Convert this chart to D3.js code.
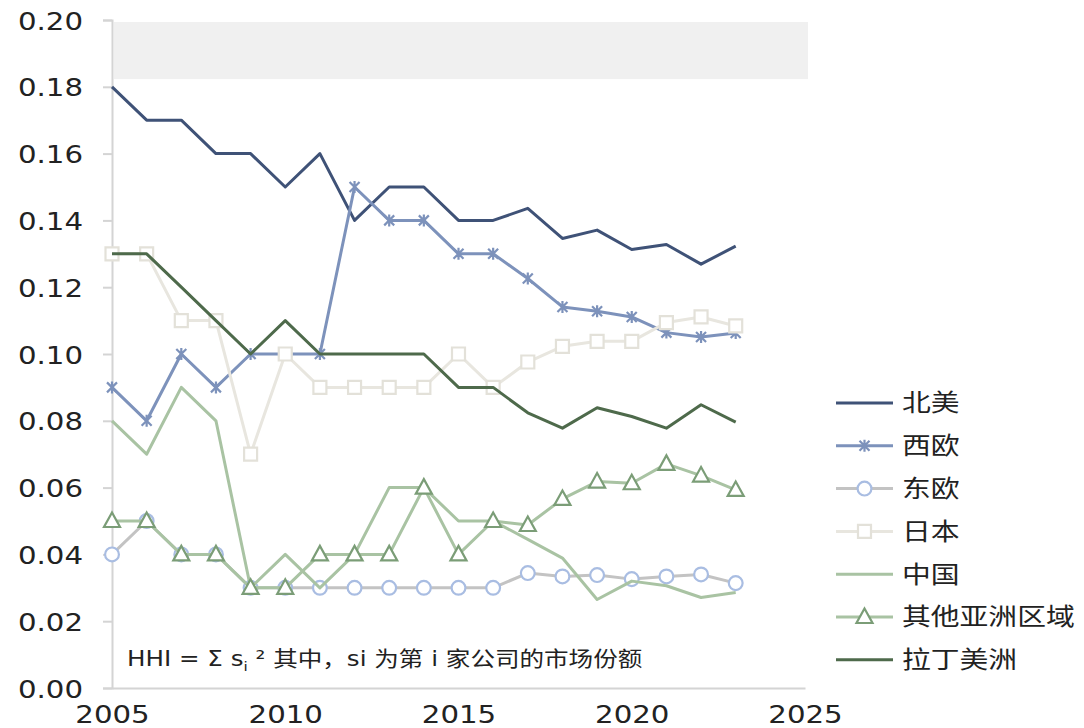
<!DOCTYPE html>
<html>
<head>
<meta charset="utf-8">
<script src="https://cdn.jsdelivr.net/npm/d3@7/dist/d3.min.js"></script>
<style>
    body { margin: 0; background: #fff; }
    svg text { fill: #222; }
</style>
</head>
<body>
<div id="chart"></div>
<script>
// data
const YEARS = [2005, 2006, 2007, 2008, 2009, 2010, 2011, 2012, 2013, 2014,
               2015, 2016, 2017, 2018, 2019, 2020, 2021, 2022, 2023];

const SERIES_NAMES = ["北美", "西欧", "东欧", "日本", "中国", "其他亚洲区域", "拉丁美洲"];

const NORTH_AMERICA = [0.18, 0.17, 0.17, 0.16, 0.16, 0.15, 0.16, 0.14, 0.15, 0.15,
                       0.14, 0.14, 0.1436, 0.1346, 0.1371, 0.1313, 0.1328, 0.1269, 0.1323];
const WESTERN_EUROPE = [0.09, 0.08, 0.10, 0.09, 0.10, 0.10, 0.10, 0.15, 0.14, 0.14,
                        0.13, 0.13, 0.1226, 0.1141, 0.1128, 0.1111, 0.1064, 0.1051, 0.1063];
const EASTERN_EUROPE = [0.04, 0.05, 0.04, 0.04, 0.03, 0.03, 0.03, 0.03, 0.03, 0.03,
                        0.03, 0.03, 0.0344, 0.0334, 0.0338, 0.0326, 0.0334, 0.034, 0.0314];
const JAPAN = [0.13, 0.13, 0.11, 0.11, 0.07, 0.10, 0.09, 0.09, 0.09, 0.09,
               0.10, 0.09, 0.0976, 0.1023, 0.1038, 0.1038, 0.1094, 0.1111, 0.1084];
const CHINA = [0.08, 0.07, 0.09, 0.08, 0.03, 0.04, 0.03, 0.04, 0.06, 0.06,
               0.05, 0.05, 0.0445, 0.0389, 0.0265, 0.032, 0.0306, 0.0271, 0.0286];
const OTHER_ASIA = [0.05, 0.05, 0.04, 0.04, 0.03, 0.03, 0.04, 0.04, 0.04, 0.06,
                    0.04, 0.05, 0.0488, 0.0566, 0.0618, 0.0613, 0.0671, 0.0636, 0.0593];
const LATIN_AMERICA = [0.13, 0.13, 0.12, 0.11, 0.10, 0.11, 0.10, 0.10, 0.10, 0.10,
                       0.09, 0.09, 0.0824, 0.0778, 0.0839, 0.0813, 0.0778, 0.0848, 0.0796];

const SERIES_VALUES = [NORTH_AMERICA, WESTERN_EUROPE, EASTERN_EUROPE, JAPAN, CHINA, OTHER_ASIA, LATIN_AMERICA];

const Y_TICKS = [0, 0.02, 0.04, 0.06, 0.08, 0.10, 0.12, 0.14, 0.16, 0.18, 0.20];
const X_TICKS = [2005, 2010, 2015, 2020, 2025];
const BAND = [0.1823, 0.1994];

const NOTE_PARTS = ["HHI = Σ s", "i", " ² 其中，si 为第 i 家公司的市场份额"];

// layout / style
const WIDTH = 1084;
const HEIGHT = 728;
const SX = 1.17;   // the picture is a bit wider than tall, stretch text to match

const STYLE = {
    "北美":       { line: "#3f5277", marker: null },
    "西欧":       { line: "#7d92bb", marker: "star", mstroke: "#7d92bb" },
    "东欧":       { line: "#c3c3c3", marker: "circle", mstroke: "#a9bde2" },
    "日本":       { line: "#e8e6df", marker: "square", mstroke: "#e3e1d9" },
    "中国":       { line: "#a9c3a3", marker: null },
    "其他亚洲区域": { line: "#a9c3a3", marker: "triangle", mstroke: "#7b9d77" },
    "拉丁美洲":    { line: "#4e6a4b", marker: null },
};

const svg = d3.select("#chart").append("svg")
              .attr("width", WIDTH)
              .attr("height", HEIGHT);

const xScale = d3.scaleLinear()
                 .domain([2005, 2025])
                 .range([112, 805]);

const yScale = d3.scaleLinear()
                 .domain([0, 0.2])
                 .range([688, 20]);

// grey band at the top of the plot
svg.append("rect")
   .attr("x", xScale(2005) + 2)
   .attr("y", yScale(BAND[1]))
   .attr("width", xScale(2025) - xScale(2005) + 1)
   .attr("height", yScale(BAND[0]) - yScale(BAND[1]))
   .attr("fill", "#f0f0f0");

// Y axis
let yAxis = d3.axisLeft(yScale)
              .tickValues(Y_TICKS)
              .tickSize(9)
              .tickFormat(d3.format(".2f"));
let yAxisCont = svg.append("g")
                   .attr("transform", `translate(${xScale(2005)}, 0)`)
                   .call(yAxis);
yAxisCont.select(".domain").attr("stroke", "#d4d4d4").attr("stroke-width", 2);
yAxisCont.selectAll("line").attr("stroke", "#d4d4d4").attr("stroke-width", 2);
yAxisCont.selectAll("text")
         .attr("x", -29 / SX)
         .attr("dy", "0.36em")
         .attr("transform", `scale(${SX},1)`)
         .attr("font-family", "DejaVu Sans, Verdana, sans-serif")
         .attr("font-size", 25)
         .attr("fill", "#222");

// X axis
let xAxis = d3.axisBottom(xScale)
              .tickValues(X_TICKS)
              .tickSize(0)
              .tickFormat(d3.format("d"));
let xAxisCont = svg.append("g")
                   .attr("transform", `translate(0, ${yScale(0)})`)
                   .call(xAxis);
xAxisCont.select(".domain").attr("stroke", "#d4d4d4").attr("stroke-width", 2);
xAxisCont.selectAll("text")
         .attr("y", 17)
         .attr("dy", "0.71em")
         .attr("transform", `scale(${SX},1)`)
         .attr("font-family", "DejaVu Sans, Verdana, sans-serif")
         .attr("font-size", 25)
         .attr("fill", "#222");
svg.selectAll(".domain").attr("fill", "none");

// markers
let markerPath = (type) => {
    if (type == "star") return "M-5,-5L5,5M-5,5L5,-5M0,-6L0,6";
    if (type == "square") return "M-6.5,-6.5H6.5V6.5H-6.5Z";
    if (type == "triangle") return "M0,-8.5L8,6L-8,6Z";
    return d3.symbol().type(d3.symbolCircle).size(150)();
};

const lineGen = d3.line()
                  .x((d) => xScale(d.year))
                  .y((d) => yScale(d.value));

const series = SERIES_NAMES.map((name, i) => ({
    name: name,
    points: YEARS.map((y, j) => ({ year: y, value: SERIES_VALUES[i][j] })),
}));

const lines = svg.append("g")
                 .selectAll(".series")
                 .data(series)
                 .join("g")
                 .attr("class", "series");

lines.append("path")
     .attr("fill", "none")
     .attr("stroke", (d) => STYLE[d.name].line)
     .attr("stroke-width", 3)
     .attr("stroke-linejoin", "round")
     .attr("d", (d) => lineGen(d.points));

lines.filter((d) => STYLE[d.name].marker)
     .selectAll(".marker")
     .data((d) => d.points.map((p) => ({ ...p, name: d.name })))
     .join("path")
     .attr("class", "marker")
     .attr("transform", (p) => `translate(${xScale(p.year)}, ${yScale(p.value)})`)
     .attr("d", (p) => markerPath(STYLE[p.name].marker))
     .attr("fill", (p) => STYLE[p.name].marker == "star" ? "none" : "#fff")
     .attr("stroke", (p) => STYLE[p.name].mstroke)
     .attr("stroke-width", 2.2);

// legend
const legend = svg.append("g")
                  .attr("transform", "translate(836, 403)");

const legendRow = legend.selectAll(".legend-row")
                        .data(SERIES_NAMES)
                        .join("g")
                        .attr("class", "legend-row")
                        .attr("transform", (d, i) => `translate(0, ${i * 42.8})`);

legendRow.append("line")
         .attr("x1", 0)
         .attr("x2", 57)
         .attr("stroke", (d) => STYLE[d].line)
         .attr("stroke-width", 3);

legendRow.filter((d) => STYLE[d].marker)
         .append("path")
         .attr("transform", "translate(28.5, 0)")
         .attr("d", (d) => markerPath(STYLE[d].marker))
         .attr("fill", (d) => STYLE[d].marker == "star" ? "none" : "#fff")
         .attr("stroke", (d) => STYLE[d].mstroke)
         .attr("stroke-width", 2.2);

legendRow.append("text")
         .text((d) => d)
         .attr("transform", `translate(66, 0) scale(${SX + 0.03},1)`)
         .attr("dy", "0.35em")
         .attr("font-family", "Noto Sans CJK SC, sans-serif")
         .attr("font-size", 24);

// note at the bottom of the plot
const note = svg.append("text")
                .attr("transform", `translate(127, 666) scale(${SX},1)`)
                .attr("font-family", "DejaVu Sans, Noto Sans CJK SC, sans-serif")
                .attr("font-size", 21);
note.append("tspan").text(NOTE_PARTS[0]);
note.append("tspan").text(NOTE_PARTS[1]).attr("font-size", 13).attr("dy", 5);
note.append("tspan").text(NOTE_PARTS[2]).attr("dy", -5);
</script>
</body>
</html>
